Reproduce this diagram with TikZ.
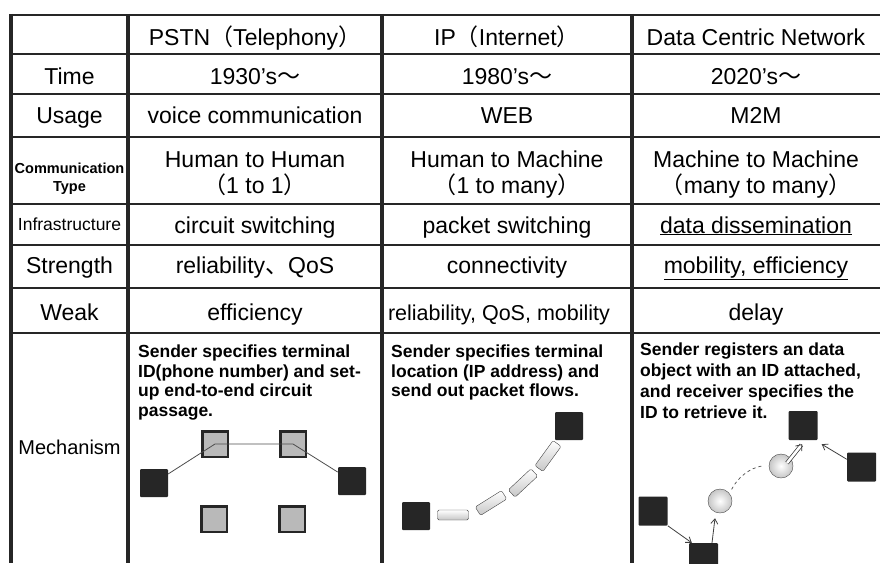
\documentclass[tikz,border=0pt]{standalone}
\usepackage{fontspec}
\setmainfont{Liberation Sans}
\newfontfamily\cjk{Noto Sans CJK JP}
\usetikzlibrary{arrows.meta}

\tikzset{
  cell/.style={font=\fontsize{23}{26}\selectfont, align=center, anchor=base, inner sep=0pt},
  note/.style={font=\fontsize{17.5}{19.5}\selectfont\bfseries, align=left, anchor=north west, inner sep=0pt},
  term/.style={fill=black!85, minimum size=28pt, inner sep=0pt, rounded corners=1pt},
  switchbox/.style={fill=gray!55, draw=black!85, line width=2.5pt, minimum size=25.5pt, inner sep=0pt},
  packet/.style={draw=gray!55!black, rounded corners=1.5pt, top color=white, bottom color=gray!45, minimum width=31pt, minimum height=10pt, inner sep=0pt},
  dataobj/.style={circle, draw=gray!55!black, inner color=white, outer color=gray!45, minimum size=24pt, inner sep=0pt},
  grid h/.style={line width=2.5pt, black!85},
  grid v/.style={line width=3.5pt, black!85},
  link/.style={gray!60!black, line width=0.8pt},
  flow/.style={black!75, line width=0.8pt, -{Straight Barb[length=5pt,width=7pt]}},
  dblflow/.style={black!80, double=white, double distance=2.6pt, line width=0.7pt, -{Straight Barb[length=5pt,width=8pt]}}
}

\begin{document}
\begin{tikzpicture}[x=1pt, y=-1pt]
  \useasboundingbox (0,0) rectangle (880,563);
  \clip (0,0) rectangle (880,563);

  % table lines
  \foreach \y in {15,54,94,137,204,245,288,333}
    \draw[grid h] (9.25,\y) -- (880,\y);
  \foreach \x in {11,128,382,632}
    \draw[grid v] (\x,13.75) -- (\x,563);

  % header
  \node(head_pstn) at (255,45) [cell] {PSTN{\cjk（}Telephony{\cjk）}};
  \node(head_ip) at (507,45) [cell] {IP{\cjk（}Internet{\cjk）}};
  \node(head_dcn) at (756,45) [cell] {Data Centric Network};

  % time
  \node(time_lbl) at (69.5,84) [cell] {Time};
  \node(time_pstn) at (255,84) [cell] {1930’s{\cjk～}};
  \node(time_ip) at (507,84) [cell] {1980’s{\cjk～}};
  \node(time_dcn) at (756,84) [cell] {2020’s{\cjk～}};

  % usage
  \node(use_lbl) at (69.5,123) [cell] {Usage};
  \node(use_pstn) at (255,123) [cell] {voice communication};
  \node(use_ip) at (507,123) [cell] {WEB};
  \node(use_dcn) at (756,123) [cell] {M2M};

  % communication type (base = last line)
  \node(comm_lbl) at (69.5,191) [cell, font=\fontsize{14.5}{18}\selectfont\bfseries] {Communication\\Type};
  \node(comm_pstn) at (255,193) [cell] {Human to Human\\{\cjk（}1 to 1{\cjk）}};
  \node(comm_ip) at (507,193) [cell] {Human to Machine\\{\cjk（}1 to many{\cjk）}};
  \node(comm_dcn) at (756,193) [cell] {Machine to Machine\\{\cjk（}many to many{\cjk）}};

  % infrastructure
  \node(infra_lbl) at (69.5,230) [cell, font=\fontsize{17.5}{20}\selectfont] {Infrastructure};
  \node(infra_pstn) at (255,233) [cell] {circuit switching};
  \node(infra_ip) at (507,233) [cell] {packet switching};
  \node(infra_dcn) at (756,233) [cell] {\underline{data dissemination}};

  % strength
  \node(str_lbl) at (69.5,273) [cell] {Strength};
  \node(str_pstn) at (255,273) [cell] {reliability{\cjk、}QoS};
  \node(str_ip) at (507,273) [cell] {connectivity};
  \node(str_dcn) at (756,273) [cell] {\underline{mobility, efficiency}};

  % weak
  \node(weak_lbl) at (69.5,320) [cell] {Weak};
  \node(weak_pstn) at (255,320) [cell] {efficiency};
  \node(weak_ip) at (499,320) [cell, font=\fontsize{21.5}{24}\selectfont] {reliability, QoS, mobility};
  \node(weak_dcn) at (756,320) [cell] {delay};

  % mechanism
  \node(mech_lbl) at (69.5,454) [cell, font=\fontsize{20}{24}\selectfont] {Mechanism};
  \node(mech_pstn) at (138,345) [note] {Sender specifies terminal\\ID(phone number) and set-\\up end-to-end circuit\\passage.};
  \node(mech_ip) at (391,345) [note] {Sender specifies terminal\\location (IP address) and\\send out packet flows.};
  \node(mech_dcn) at (640,343) [note, font=\fontsize{17.5}{21}\selectfont\bfseries] {Sender registers an data\\object with an ID attached,\\and receiver specifies the\\ID to retrieve it.};

  % circuit switching
  \node(sw1) at (215,444) [switchbox] {};
  \node(sw2) at (293,444) [switchbox] {};
  \node(sw3) at (214,519) [switchbox] {};
  \node(sw4) at (292,519) [switchbox] {};
  \node(tel1) at (154,483) [term] {};
  \node(tel2) at (352,481) [term] {};
  \draw[link] (tel1) -- (sw1.center) -- (sw2.center) -- (tel2);

  % packet flow
  \node(host1) at (416,516) [term] {};
  \node(host2) at (569,426) [term] {};
  \node(pkt1) at (453,515) [packet] {};
  \node(pkt2) at (491,503) [packet, rotate=32] {};
  \node(pkt3) at (523,483) [packet, rotate=43] {};
  \node(pkt4) at (548,456) [packet, rotate=54] {};

  % data dissemination
  \node(mtop) at (803,425.5) [term, minimum size=29pt] {};
  \node(mright) at (861.5,467) [term, minimum size=29pt] {};
  \node(mleft) at (653,511) [term, minimum size=29pt] {};
  \node(mbot) at (703.5,557.5) [term, minimum size=29pt] {};
  \node(dlow) at (720,501) [dataobj] {};
  \node(dup) at (781,466) [dataobj] {};
  \draw[gray!60!black, dashed, line width=0.7pt] ([shift={(3pt,3pt)}]dlow.north east) .. controls +(6,-12) and +(-12,2) .. ([xshift=-7pt]dup.west);
  \draw[flow] (mleft.south east) -- ([xshift=3pt]mbot.north west);
  \draw[flow] ([xshift=8.5pt]mbot.north) -- ([shift={(-5pt,-5pt)}]dlow.south);
  \draw[dblflow] ([shift={(6pt,3pt)}]dup.center) -- ([shift={(-1pt,-4pt)}]mtop.south);
  \draw[flow] ([yshift=-7pt]mright.north west) -- ([shift={(4pt,-4pt)}]mtop.south east);
\end{tikzpicture}
\end{document}
